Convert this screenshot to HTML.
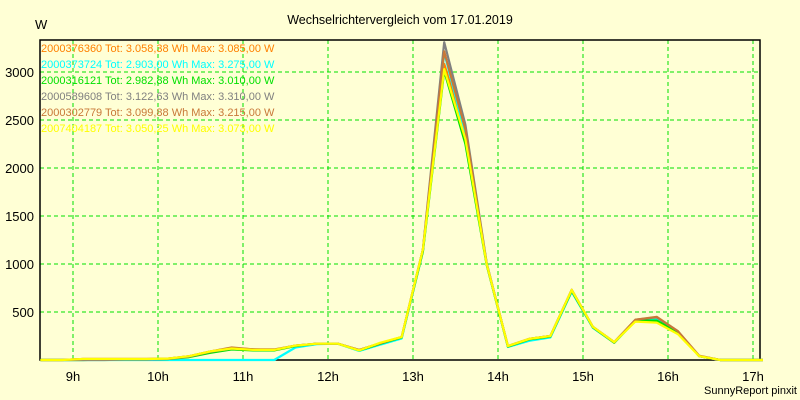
<!DOCTYPE html>
<html><head><meta charset="utf-8"><style>
body{margin:0;background:#ffffd5;}
svg{display:block;font-family:"Liberation Sans",sans-serif;}
</style></head><body>
<svg id="chart" width="800" height="400">
<rect x="0" y="0" width="800" height="400" fill="#ffffd5"/>
<text x="400" y="24" text-anchor="middle" font-size="12.5" fill="#000">Wechselrichtervergleich vom 17.01.2019</text>
<text x="35" y="29" font-size="13" fill="#000">W</text>
<text x="797" y="394" text-anchor="end" font-size="11" fill="#000">SunnyReport pinxit</text>
<g id="grid"></g><g id="axes"></g><g id="series"></g><g id="legend"></g>
</svg>
<script>
const times=["8:37","8:52","9:07","9:22","9:37","9:52","10:07","10:22","10:37","10:52","11:07","11:22","11:37","11:52","12:07","12:22","12:37","12:52","13:07","13:22","13:37","13:52","14:07","14:22","14:37","14:52","15:07","15:22","15:37","15:52","16:07","16:22","16:37","16:52","17:07"];
const yTicks=[500,1000,1500,2000,2500,3000];
const xTicks=[9,10,11,12,13,14,15,16,17];
const names=["2000376360 Tot: 3.058,38 Wh Max: 3.085,00 W","2000373724 Tot: 2.903,00 Wh Max: 3.275,00 W","2000316121 Tot: 2.982,88 Wh Max: 3.010,00 W","2000589608 Tot: 3.122,63 Wh Max: 3.310,00 W","2000302779 Tot: 3.099,88 Wh Max: 3.215,00 W","2007404187 Tot: 3.050,25 Wh Max: 3.073,00 W"];
const colors=["#ff8000","#00ffff","#00e000","#808080","#c87838","#ffff00"];
const sOrange=[0,0,10,10,10,10,15,40,90,125,110,105,150,170,170,100,175,240,1150,3085,2350,1000,145,220,250,730,345,185,415,420,290,40,0,0,0];
const sCyan=[0,0,0,0,0,0,0,0,0,0,0,0,130,165,170,95,160,225,1130,3200,2350,1000,135,200,235,710,335,180,405,420,290,40,0,0,0];
const sGreen=[0,0,0,5,5,5,10,30,75,110,100,100,145,170,170,100,170,235,1130,3010,2250,990,140,215,245,720,340,180,410,410,290,40,0,0,0];
const sGray=[0,0,0,0,5,5,10,35,85,120,110,105,150,170,170,105,175,240,1150,3310,2450,1010,145,220,250,730,345,185,420,445,300,40,0,0,0];
const sBrown=[0,0,10,10,10,10,15,40,90,130,110,110,150,170,170,105,175,240,1150,3215,2400,1000,145,220,250,730,345,185,420,450,300,45,0,0,0];
const sYellow=[0,0,10,10,10,10,15,40,90,120,105,105,150,170,170,100,180,240,1150,3030,2300,1000,145,220,250,730,345,185,400,390,270,40,0,0,0];
const seriesList=[sOrange,sCyan,sGreen,sGray,sBrown,sYellow];
const NS="http://www.w3.org/2000/svg";
const L=40,R=760,T=40,B=360;
function xScale(h){return 73+(h-9)*85;}
function yScale(v){return B-v*0.096;}
function hrs(t){const p=t.split(":");return +p[0]+(+p[1])/60;}
function mk(tag,attrs,parent){const e=document.createElementNS(NS,tag);for(const k in attrs)e.setAttribute(k,attrs[k]);parent.appendChild(e);return e;}
const grid=document.getElementById("grid"),axes=document.getElementById("axes"),ser=document.getElementById("series"),leg=document.getElementById("legend");
yTicks.forEach(v=>{const y=yScale(v);
const g=mk("line",{x1:L,x2:R,y1:y,y2:y,stroke:"#00e000","stroke-dasharray":"4,3"},grid);


const t=mk("text",{x:34,y:y+5,"text-anchor":"end","font-size":"13",fill:"#000"},axes);t.textContent=v;


});
xTicks.forEach(h=>{const x=xScale(h);
const g=mk("line",{x1:x,x2:x,y1:T,y2:B,stroke:"#00e000","stroke-dasharray":"4,3"},grid);


const t=mk("text",{x:x,y:381,"text-anchor":"middle","font-size":"13",fill:"#000"},axes);t.textContent=h+"h";


});
const frame=mk("path",{d:`M${L},${T}H${R}V${B}H${L}Z`,fill:"none",stroke:"#000","stroke-width":"1.5"},axes);


seriesList.forEach((s,i)=>{
const d=s.map((v,j)=>(j?"L":"M")+xScale(hrs(times[j])).toFixed(1)+","+yScale(v).toFixed(1)).join("");
const p=mk("path",{d:d,fill:"none",stroke:colors[i],"stroke-width":"2.2","stroke-linejoin":"round"},ser);


const t=mk("text",{x:41,y:52+i*16,"font-size":"11",fill:colors[i]},leg);t.textContent=names[i];


});
</script>
</body></html>
